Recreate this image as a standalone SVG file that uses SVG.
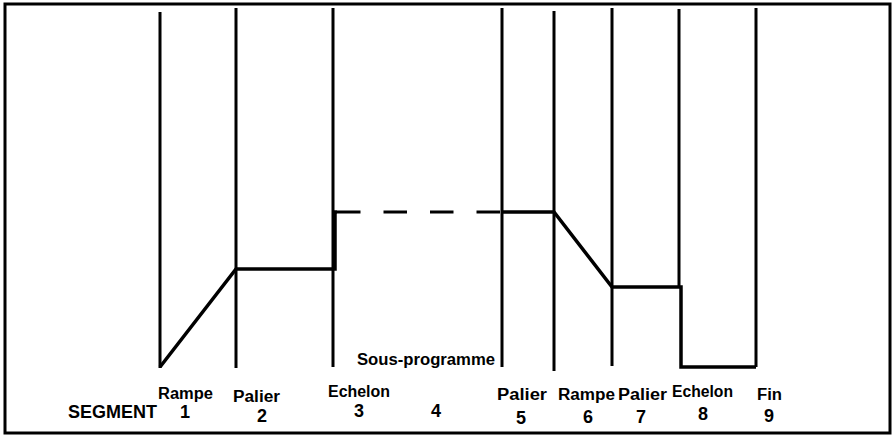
<svg xmlns="http://www.w3.org/2000/svg" width="895" height="438" viewBox="0 0 895 438">
<style>
.frame{fill:none;stroke:#000;stroke-width:3}
.v{stroke:#000;stroke-width:3;fill:none}
.p{stroke:#000;stroke-width:3.5;fill:none;stroke-linejoin:miter}
.d{stroke:#000;stroke-width:3;fill:none;stroke-dasharray:23.5 23}
.t{font-family:"Liberation Sans",Arial,sans-serif;font-weight:bold;font-size:16px;fill:#000}
.n{font-family:"Liberation Sans",Arial,sans-serif;font-weight:bold;font-size:18px;fill:#000}
</style>
<rect class="frame" x="5" y="4" width="885" height="429"/>
<g id="lines">
<line class="v" x1="160" y1="12" x2="160" y2="368"/>
<line class="v" x1="236" y1="8" x2="236" y2="368"/>
<line class="v" x1="333" y1="8" x2="333" y2="367"/>
<line class="v" x1="502" y1="8" x2="502" y2="367"/>
<line class="v" x1="554" y1="11" x2="554" y2="371"/>
<line class="v" x1="612" y1="8" x2="612" y2="366"/>
<line class="v" x1="679" y1="9" x2="679" y2="288"/>
<line class="v" x1="756" y1="8" x2="756" y2="367"/>
</g>
<g id="profile">
<polyline class="p" points="160,367 236,269 335,269 335,212 337,212"/>
<line class="d" x1="337" y1="212" x2="502" y2="212"/>
<polyline class="p" points="502,212 554,212 612,287 681,287 681,367 756,367"/>
</g>
<g id="labels">
<text class="t" x="357" y="365" textLength="138" lengthAdjust="spacingAndGlyphs">Sous-programme</text>
<text class="t" x="158" y="399" textLength="55" lengthAdjust="spacingAndGlyphs">Rampe</text>
<text class="t" x="233" y="402" textLength="47" lengthAdjust="spacingAndGlyphs">Palier</text>
<text class="t" x="328" y="397" textLength="62" lengthAdjust="spacingAndGlyphs">Echelon</text>
<text class="t" x="497" y="400" textLength="50" lengthAdjust="spacingAndGlyphs">Palier</text>
<text class="t" x="558" y="400" textLength="57" lengthAdjust="spacingAndGlyphs">Rampe</text>
<text class="t" x="618" y="400" textLength="49" lengthAdjust="spacingAndGlyphs">Palier</text>
<text class="t" x="672" y="397" textLength="61" lengthAdjust="spacingAndGlyphs">Echelon</text>
<text class="t" x="757" y="400" textLength="25" lengthAdjust="spacingAndGlyphs">Fin</text>
<text class="n" x="68" y="418" textLength="89" lengthAdjust="spacingAndGlyphs">SEGMENT</text>
<text class="n" x="185" y="418" text-anchor="middle">1</text>
<text class="n" x="262" y="422" text-anchor="middle">2</text>
<text class="n" x="359" y="417" text-anchor="middle">3</text>
<text class="n" x="436" y="417" text-anchor="middle">4</text>
<text class="n" x="521" y="424" text-anchor="middle">5</text>
<text class="n" x="588" y="423" text-anchor="middle">6</text>
<text class="n" x="641" y="423" text-anchor="middle">7</text>
<text class="n" x="703" y="420" text-anchor="middle">8</text>
<text class="n" x="769" y="422" text-anchor="middle">9</text>
</g>
</svg>
